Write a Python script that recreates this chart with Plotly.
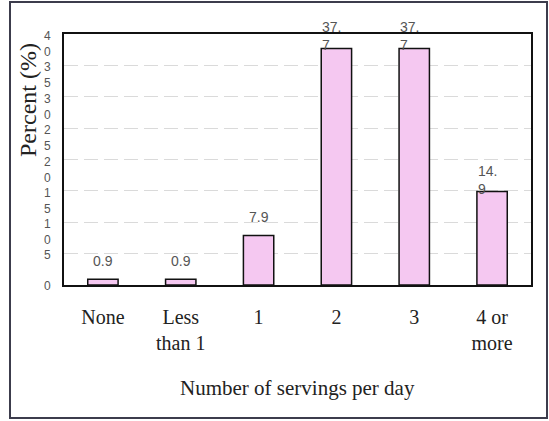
import plotly.graph_objects as go

# Servings-per-day distribution
categories = ["None", "Less<br>than 1", "1", "2", "3", "4 or<br>more"]
percents = [0.9, 0.9, 7.9, 37.7, 37.7, 14.9]
y_ticks = [0, 5, 10, 15, 20, 25, 30, 35, 40]

W, H = 549, 421
L, R, T, B = 64, 18, 34, 136
PW, PH = W - L - R, H - T - B

BAR_FILL = "#f5c8f1"
SANS = "Liberation Sans, Arial, sans-serif"
SERIF = "Liberation Serif, Times New Roman, serif"

fig = go.Figure(
    go.Bar(
        x=categories,
        y=percents,
        width=0.39,
        marker=dict(color=BAR_FILL, line=dict(color="#111111", width=1.5)),
        hoverinfo="skip",
    )
)

annotations = []

# Value labels: narrow label boxes wrap after the decimal point
for i, v in enumerate(percents):
    s = f"{v}"
    if len(s) > 3:
        annotations.append(dict(
            x=i, y=v, xref="x", yref="y", text=s[:3] + "<br>" + s[3:],
            showarrow=False, xanchor="left", yanchor="bottom", align="left",
            xshift=-16, yshift=-7,
            font=dict(family=SANS, size=14, color="#555555"),
        ))
    else:
        annotations.append(dict(
            x=i, y=v, xref="x", yref="y", text=s,
            showarrow=False, xanchor="center", yanchor="bottom",
            yshift=8,
            font=dict(family=SANS, size=14, color="#555555"),
        ))

# Y tick labels stacked one digit per line
for t in y_ticks:
    s = str(t)
    annotations.append(dict(
        x=0, y=t, xref="paper", yref="y", text="<br>".join(s),
        showarrow=False, xanchor="center", yanchor="middle",
        xshift=-17, yshift=-(len(s) - 1) * 9 - 1,
        font=dict(family=SANS, size=12, color="#555555"),
    ))

# Axis titles
annotations.append(dict(
    x=0, y=(H - B - 100) / PH, xref="paper", yref="paper", text="Percent (%)",
    showarrow=False, textangle=-90, xanchor="center", yanchor="middle",
    xshift=-36, font=dict(family=SERIF, size=24, color="#222222"),
))
annotations.append(dict(
    x=0.5, y=0, xref="paper", yref="paper", text="Number of servings per day",
    showarrow=False, xanchor="center", yanchor="middle", yshift=-103,
    font=dict(family=SERIF, size=21, color="#222222"),
))

# Outer frame around the whole chart
def px_x(p):
    return (p - L) / PW

def px_y(p):
    return (H - B - p) / PH

shapes = [dict(
    type="rect", xref="paper", yref="paper",
    x0=px_x(10), x1=px_x(547), y0=px_y(418), y1=px_y(2),
    line=dict(color="#3c3c4c", width=2), fillcolor="rgba(0,0,0,0)", layer="below",
)]

fig.update_layout(
    width=W, height=H,
    margin=dict(l=L, r=R, t=T, b=B),
    paper_bgcolor="white", plot_bgcolor="white",
    showlegend=False,
    annotations=annotations,
    shapes=shapes,
    xaxis=dict(
        type="category",
        showline=True, linecolor="#111111", linewidth=1.5, mirror=True,
        showgrid=False, ticks="", ticklabelstandoff=13,
        tickfont=dict(family=SERIF, size=20, color="#222222"),
    ),
    yaxis=dict(
        range=[0, 40], tickvals=y_ticks, showticklabels=False,
        showline=True, linecolor="#111111", linewidth=1.5, mirror=True,
        showgrid=True, gridcolor="#dadada", gridwidth=1, griddash="14px,6px",
        zeroline=False, ticks="",
    ),
)

fig.write_html("out.html")
